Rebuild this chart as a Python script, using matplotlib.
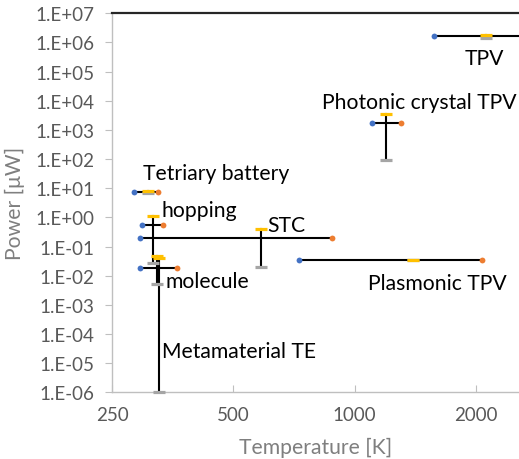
import numpy as np
import matplotlib.pyplot as plt
from matplotlib.ticker import FixedLocator, NullLocator

plt.rcParams['font.family'] = ['Lato', 'DejaVu Sans']

# each device: temperature range (min, typical, max) in K, power level and its range in uW
names = ['Tetriary battery', 'hopping', 'STC', 'molecule', 'Metamaterial TE',
         'Photonic crystal TPV', 'Plasmonic TPV', 'TPV']
t_min = [283, 297, 293, 293, None, 1103, 726, 1576]
t_mid = [307, 316, 585, 323, 327, 1198, 1401, 2126]
t_max = [324, 335, 878, 363, None, 1305, 2078, 3200]
p_mid = [7.6, 0.56, 0.196, 0.0179, None, 1726, 0.0336, 1.66e6]
p_max = [8.2, 1.09, 0.40, 0.047, 0.040, 3510, 0.0336, 1.87e6]
p_min = [7.0, 0.0265, 0.0194, 0.0052, 1e-6, 92.7, 0.0336, 1.39e6]

# where each name is written (left edge, baseline)
label_xy = [(298, 20.7), (332, 1.11), (608, 0.34), (339, 0.0041), (333, 1.62e-5),
            (829, 5500), (1082, 0.0035), (1882, 1.82e5)]

y_ticks = [10.0 ** k for k in range(-6, 8)]
y_ticklabels = ['1.E%+03d' % k for k in range(-6, 8)]
x_ticks = [250, 500, 1000, 2000]

blue = '#4472C4'
orange = '#ED7D31'
yellow = '#FFC000'
gray = '#A5A5A5'

fig = plt.figure(figsize=(5.19, 4.60), dpi=100)
ax = fig.add_axes([0.2164, 0.145, 0.7836, 0.8239])
ax.set_xscale('log')
ax.set_yscale('log')
ax.set_xlim(250, 2563)
ax.set_ylim(1e-6, 1e7)

# dark line at the top of the plot
ax.axhline(1e7, color='#262626', lw=1.6, clip_on=False, zorder=5)

for i in range(len(names)):
    if t_min[i] is not None:
        ax.plot([t_min[i], t_max[i]], [p_mid[i], p_mid[i]], color='black', lw=1.5, zorder=2)
    ax.plot([t_mid[i], t_mid[i]], [p_min[i], p_max[i]], color='black', lw=1.5, zorder=2)
    ax.plot(t_mid[i], p_min[i], marker='_', ms=8.5, mew=2.3, color=gray, zorder=3, clip_on=False)
    ax.plot(t_mid[i], p_max[i], marker='_', ms=8.5, mew=2.3, color=yellow, zorder=4)
    if t_min[i] is not None:
        ax.plot(t_min[i], p_mid[i], 'o', ms=4.2, color=blue, mec='none', zorder=4)
        ax.plot(t_max[i], p_mid[i], 'o', ms=4.2, color=orange, mec='none', zorder=4)
    ax.text(label_xy[i][0], label_xy[i][1], names[i], fontsize=15.2, color='black',
            va='baseline', ha='left', zorder=6)

for s in ['top', 'right']:
    ax.spines[s].set_visible(False)
for s in ['left', 'bottom']:
    ax.spines[s].set_color('#BFBFBF')
    ax.spines[s].set_linewidth(1.0)

ax.yaxis.set_major_locator(FixedLocator(y_ticks))
ax.yaxis.set_minor_locator(NullLocator())
ax.set_yticklabels(y_ticklabels)
ax.xaxis.set_major_locator(FixedLocator(x_ticks))
ax.xaxis.set_minor_locator(NullLocator())
ax.set_xticklabels([str(v) for v in x_ticks])

ax.tick_params(axis='y', direction='out', length=5, color='#BFBFBF', labelsize=13.5,
               labelcolor='#595959', pad=8)
ax.tick_params(axis='x', direction='in', length=5, color='#BFBFBF', labelsize=13.5,
               labelcolor='#595959', pad=10)

ax.set_xlabel('Temperature [K]', fontsize=15.2, color='#7F7F7F', labelpad=10)
ax.set_ylabel('Power [\u03bcW]', fontsize=15.2, color='#7F7F7F', labelpad=7)

fig.savefig('out.png', dpi=100)
